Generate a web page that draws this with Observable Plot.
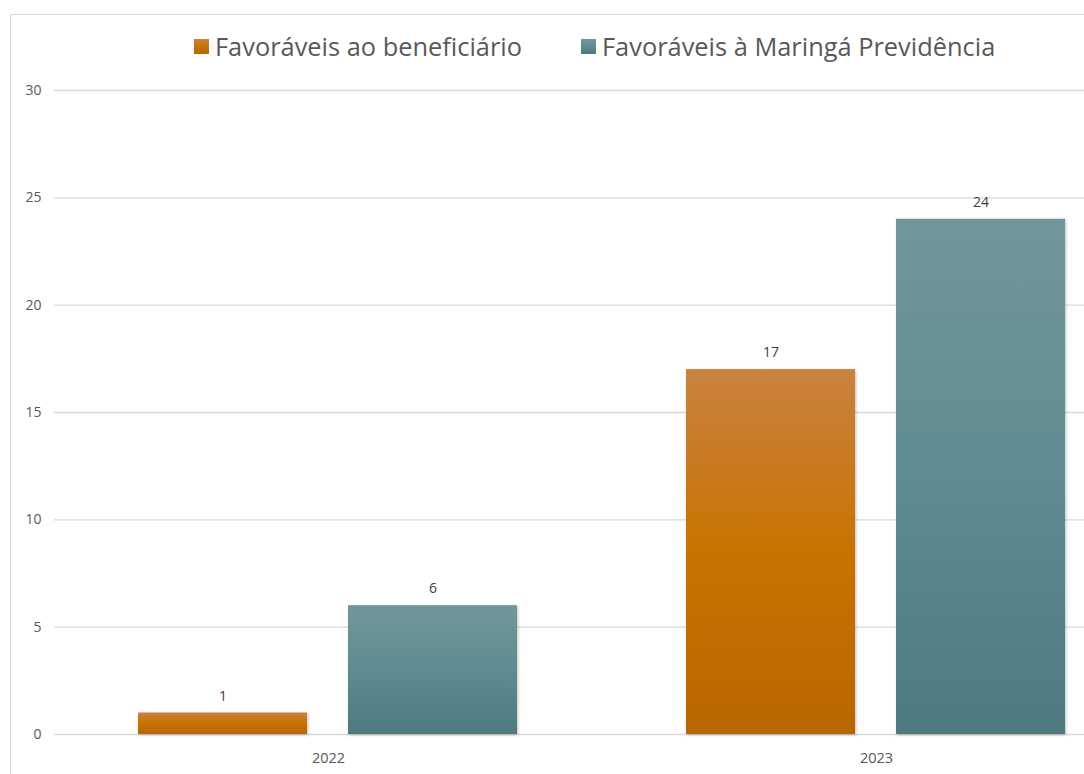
<!DOCTYPE html>
<html>
<head>
<meta charset="utf-8">
<script src="https://cdn.jsdelivr.net/npm/d3@7"></script>
<script src="https://cdn.jsdelivr.net/npm/@observablehq/plot@0.6"></script>
<style>
  html, body { margin: 0; padding: 0; background: #fff; overflow: hidden; width: 1084px; height: 774px; }
  #frame { position: absolute; left: 10px; top: 14px; width: 1200px; height: 900px; border: 1px solid #d9d9d9; box-sizing: border-box; }
  #legend { position: absolute; top: 29px; left: 194px; display: flex; align-items: center; font-family: "Open Sans", "Noto Sans", sans-serif; font-size: 25.4px; color: #595959; white-space: nowrap; }
  .item { display: flex; align-items: center; }
  .sw { width: 15px; height: 15px; margin-right: 6px; }
  #chart { position: absolute; left: 0; top: 0; width: 1150px; }
  #chart svg { max-width: none !important; }
</style>
</head>
<body>
<div id="frame"></div>
<div id="chart"></div>
<div id="legend"></div>
<script>
const years = ["2022", "2023"];
const seriesNames = ["Favoráveis ao beneficiário", "Favoráveis à Maringá Previdência"];
const beneficiario = [1, 17];
const maringa = [6, 24];
const yTicks = [0, 5, 10, 15, 20, 25, 30];

const seriesGrad = {"Favoráveis ao beneficiário": "gOrange", "Favoráveis à Maringá Previdência": "gTeal"};

const data = [];
years.forEach((y, i) => {
  data.push({year: y, series: seriesNames[0], value: beneficiario[i]});
  data.push({year: y, series: seriesNames[1], value: maringa[i]});
});

const chart = Plot.plot({
  width: 1150,
  height: 774,
  marginTop: 90,
  marginBottom: 40,
  marginLeft: 53,
  marginRight: 0,
  style: {fontFamily: "'Open Sans', 'Noto Sans', sans-serif", overflow: "visible", maxWidth: "none"},
  fx: {domain: years, padding: 0, label: null},
  x: {domain: seriesNames, paddingInner: 0.194, paddingOuter: 0.398, axis: null},
  y: {domain: [0, 30], ticks: yTicks, label: null},
  marks: [
    Plot.ruleY(yTicks, {stroke: "#d9d9d9", strokeWidth: 1.3}),
    Plot.axisY({ticks: yTicks, tickSize: 0, tickPadding: 13, fontSize: 14, color: "#595959", label: null}),
    Plot.axisFx({anchor: "bottom", tickSize: 0, tickPadding: 18, fontSize: 14.5, color: "#595959", label: null}),
    Plot.barY(data, {fx: "year", x: "series", y: "value", fill: d => `url(#${seriesGrad[d.series]})`}),
    Plot.text(data, {fx: "year", x: "series", y: "value", text: d => String(d.value), dy: -17, fontSize: 14, fill: "#404040"})
  ]
});

// gradients
const ns = "http://www.w3.org/2000/svg";
const defs = document.createElementNS(ns, "defs");
defs.innerHTML = `
<linearGradient id="gOrange" x1="0" y1="0" x2="0" y2="1">
  <stop offset="0" stop-color="#c98241"/>
  <stop offset="0.5" stop-color="#c87300"/>
  <stop offset="1" stop-color="#b86600"/>
</linearGradient>
<linearGradient id="gTeal" x1="0" y1="0" x2="0" y2="1">
  <stop offset="0" stop-color="#72979a"/>
  <stop offset="0.5" stop-color="#5e8c90"/>
  <stop offset="1" stop-color="#4d7a7f"/>
</linearGradient>`;
chart.insertBefore(defs, chart.firstChild);
chart.querySelectorAll("g[aria-label='bar'] rect").forEach(r => {
  r.style.filter = "drop-shadow(1px 1px 1.5px rgba(0,0,0,0.25))";
});
document.getElementById("chart").appendChild(chart);

const legend = document.getElementById("legend");
const swatchBg = ["linear-gradient(#c98241,#c87300,#b86600)", "linear-gradient(#72979a,#5e8c90,#4d7a7f)"];
seriesNames.forEach((s, i) => {
  const it = document.createElement("div");
  it.className = "item";
  if (i > 0) it.style.marginLeft = "59px";
  const sw = document.createElement("div");
  sw.className = "sw";
  sw.style.background = swatchBg[i];
  const t = document.createElement("span");
  t.textContent = s;
  it.appendChild(sw); it.appendChild(t);
  legend.appendChild(it);
});
</script>
</body>
</html>
